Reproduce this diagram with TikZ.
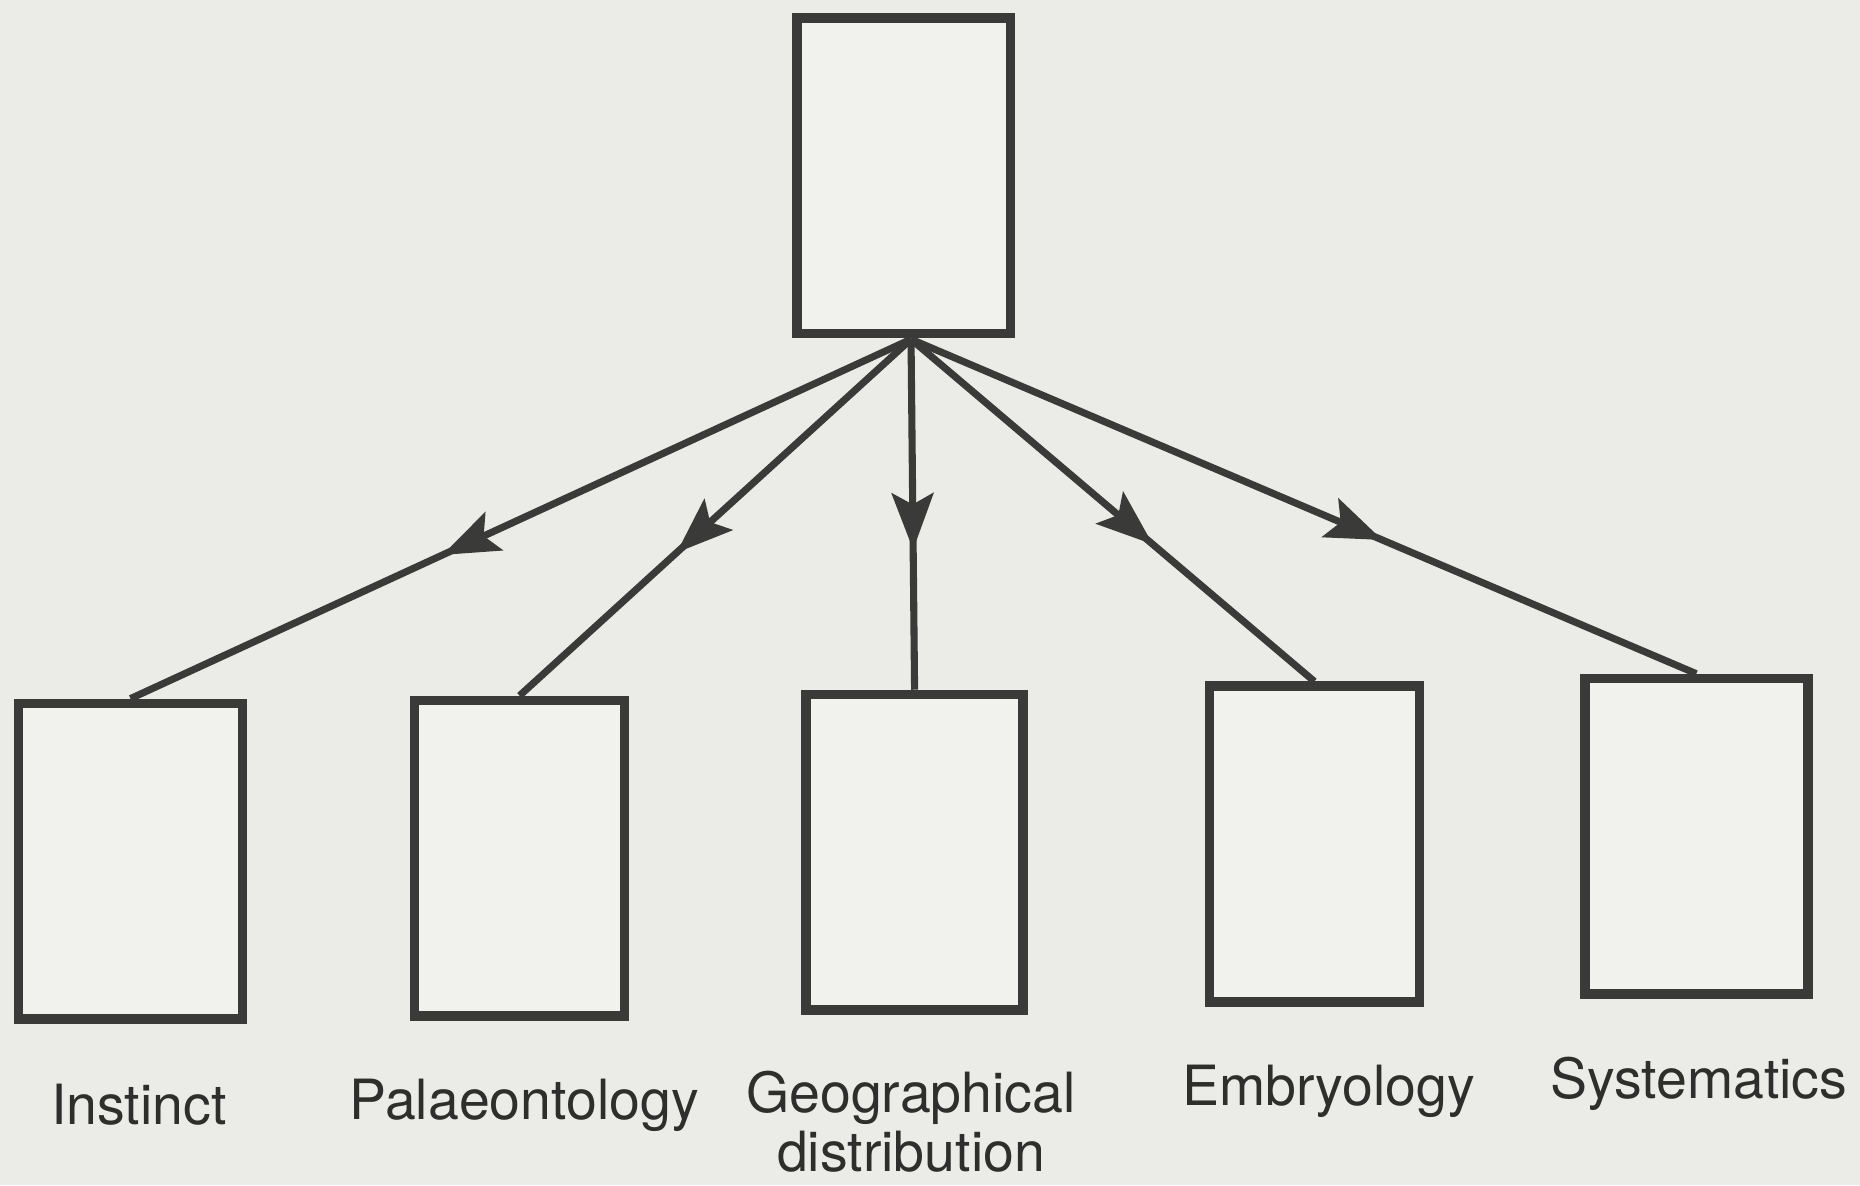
\documentclass[tikz,border=0pt]{standalone}
\usepackage{fontspec}
\setmainfont{TeX Gyre Heros}
\usepackage{xcolor}
\usetikzlibrary{arrows.meta,decorations.markings}

\definecolor{paper}{RGB}{235,235,232}
\definecolor{sheet}{RGB}{241,241,238}
\definecolor{ink}{RGB}{58,58,56}

\begin{document}
\begin{tikzpicture}[
    box/.style={draw=ink, line width=2.3pt, fill=sheet, inner sep=0pt, minimum width=1.8cm, minimum height=2.66cm},
    label/.style={text=ink!80!black, font=\fontsize{13.3}{14.3}\selectfont, align=center, anchor=base},
    arrow/.style={draw=ink, line width=1.7pt, postaction={decorate},
        decoration={markings, mark=at position 0.6 with {\arrow{Stealth[length=4.8mm,width=3.6mm,inset=1mm,fill=ink,line width=0.4pt]}}}}
]
    % Page
    \fill[paper] (0,0) rectangle (15.68,9.99);
    \useasboundingbox (0,0) rectangle (15.68,9.99);

    % Top box
    \node[box] (origin) at (7.62,8.51) {};
    \coordinate (hub) at (7.68,7.13);

    % Lines of evidence
    \node[box, minimum width=1.89cm] (instinct) at (1.10,2.73) {};
    \node[box, minimum width=1.77cm] (palaeo) at (4.38,2.755) {};
    \node[box, minimum width=1.83cm] (geo) at (7.71,2.805) {};
    \node[box, minimum width=1.77cm] (embryo) at (11.08,2.875) {};
    \node[box, minimum width=1.88cm] (system) at (14.30,2.94) {};

    % Labels
    \node[label] (instinctlabel) at (1.17,0.51) {Instinct};
    \node[label] (palaeolabel) at (4.42,0.55) {Palaeontology};
    \node[label] (geolabel) at (7.68,0.11) {Geographical\\distribution};
    \node[label] (embryolabel) at (11.20,0.67) {Embryology};
    \node[label] (systemlabel) at (14.32,0.73) {Systematics};

    % Arrows
    \draw[arrow] (hub) -- (instinct.north);
    \draw[arrow] (hub) -- (palaeo.north);
    \draw[arrow] (hub) -- (geo.north);
    \draw[arrow] (hub) -- (embryo.north);
    \draw[arrow] (hub) -- (system.north);
\end{tikzpicture}
\end{document}
